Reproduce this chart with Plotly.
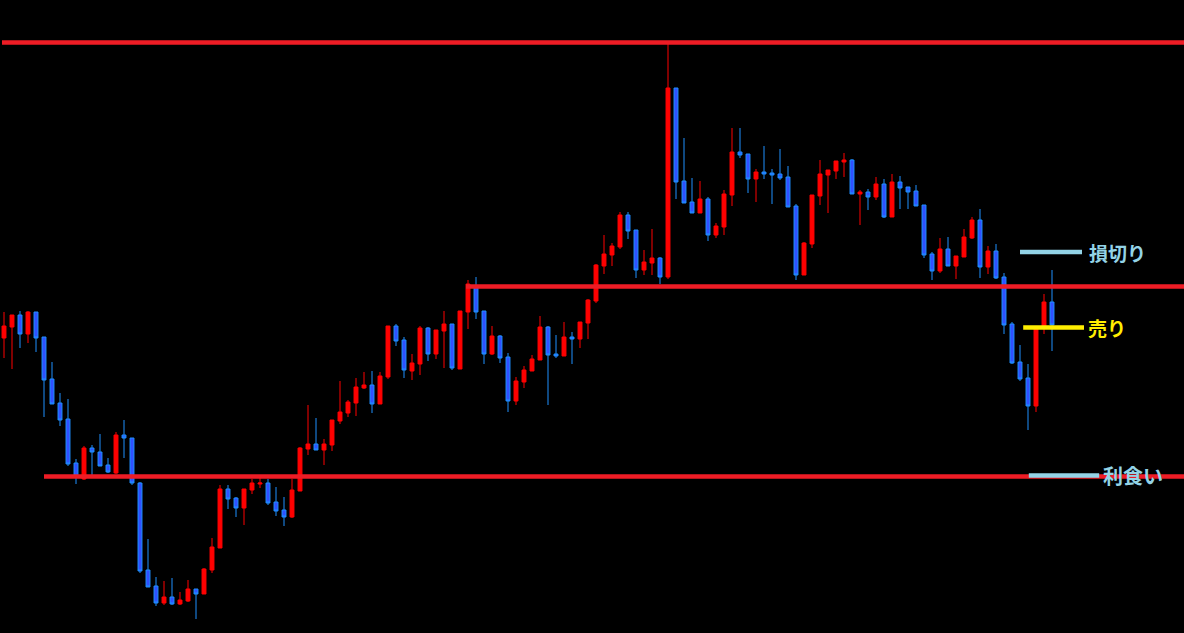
import plotly.graph_objects as go

# ---- data (price units) ----
idx = list(range(132))
open_ = [295,306,318,299,321,296,254,230,214,170,154,185,181,168,160,198,195,150,63,47,
         30,36,29,32,44,39,63,85,144,135,125,143,149,150,131,123,116,142,184,189,
         183,188,212,220,230,245,248,229,256,307,293,262,269,305,279,302,309,264,321,346,
         322,279,297,276,232,251,262,273,306,279,277,296,294,310,332,367,378,386,418,403,
         363,370,375,356,545,452,431,420,434,398,406,438,481,479,454,461,460,459,456,427,
         358,389,437,458,462,471,473,439,441,436,449,416,451,446,442,428,379,362,384,367,
         376,395,413,366,382,356,309,271,255,227,306,331]
high = [321,318,322,322,321,296,271,240,234,174,187,188,199,175,201,213,195,151,94,56,
        52,55,41,53,44,65,95,148,148,136,144,154,155,154,146,136,154,186,228,215,
        194,213,252,233,255,261,262,261,307,309,296,279,307,306,303,322,309,322,353,356,
        322,307,298,280,256,267,278,317,307,298,311,301,311,334,369,398,390,421,421,403,
        383,404,376,589,545,495,455,452,436,410,443,505,505,479,464,487,464,484,467,429,
        391,438,473,463,472,480,474,443,444,456,454,459,457,446,448,428,381,395,396,377,
        404,416,424,387,389,360,311,288,269,306,339,363]
low = [275,264,285,290,281,216,229,207,167,149,153,155,167,160,159,175,148,60,46,27,
       28,28,28,31,14,39,60,85,124,116,108,139,145,128,117,107,115,142,178,183,
       168,182,209,216,217,244,220,229,254,287,255,253,258,272,274,265,263,264,304,314,
       269,278,270,221,228,245,262,273,228,275,277,269,285,294,330,359,367,384,394,355,
       358,358,349,354,434,430,420,420,392,395,398,427,475,440,431,454,429,453,426,353,
       358,385,428,420,454,456,439,408,423,433,415,416,424,424,427,375,353,360,367,354,
       376,394,355,359,354,299,269,252,203,221,299,282]
close = [307,318,299,321,295,253,229,213,169,157,185,181,167,161,198,195,150,62,46,30,
         36,29,33,44,39,64,86,144,134,125,144,150,150,130,122,116,143,185,189,183,
         189,213,221,231,246,248,229,257,307,292,263,270,305,279,303,309,265,322,349,321,
         279,297,275,232,252,263,274,306,278,277,296,294,311,333,368,379,387,418,402,363,
         371,375,356,545,451,430,420,434,398,407,439,481,478,454,461,459,458,455,426,358,
         390,438,459,463,472,473,439,441,436,449,416,451,445,441,427,378,362,384,367,377,
         396,413,366,382,355,308,270,254,227,306,331,308]

# horizontal levels
resistance_top = 590.5
resistance_mid = 346.5
support_low = 156.5
stop_level = 381
sell_level = 305.5
take_level = 157.5
labels = ["損切り", "売り", "利食い"]

LINE_RED = "#ee1c25"
LBLUE = "#93d3e6"
YELLOW = "#ffee00"

fig = go.Figure()
fig.add_trace(go.Candlestick(
    x=idx, open=open_, high=high, low=low, close=close,
    increasing=dict(line=dict(color="#ff0000", width=1), fillcolor="#ff0000"),
    decreasing=dict(line=dict(color="#1e90ff", width=1), fillcolor="#3050ff"),
    whiskerwidth=0, showlegend=False, hoverinfo="skip",
))

shapes = [
    dict(type="line", xref="x", yref="y", x0=-0.25, x1=150, y0=resistance_top, y1=resistance_top,
         line=dict(color=LINE_RED, width=4.5)),
    dict(type="line", xref="x", yref="y", x0=57.75, x1=150, y0=resistance_mid, y1=resistance_mid,
         line=dict(color=LINE_RED, width=4.5)),
    dict(type="line", xref="x", yref="y", x0=5, x1=150, y0=support_low, y1=support_low,
         line=dict(color=LINE_RED, width=4.5)),
    dict(type="line", xref="x", yref="y", x0=127, x1=134.75, y0=stop_level, y1=stop_level,
         line=dict(color=LBLUE, width=4.5)),
    dict(type="line", xref="x", yref="y", x0=127.4, x1=135, y0=sell_level, y1=sell_level,
         line=dict(color=YELLOW, width=4.5)),
    dict(type="line", xref="x", yref="y", x0=128.1, x1=136.9, y0=take_level, y1=take_level,
         line=dict(color=LBLUE, width=4.5)),
]

font = "Noto Sans CJK JP"
annotations = [
    dict(x=135.4, y=stop_level, xref="x", yref="y", text="<b>%s</b>" % labels[0], showarrow=False,
         xanchor="left", yanchor="middle", font=dict(family=font, size=19, color=LBLUE)),
    dict(x=135.2, y=sell_level, xref="x", yref="y", text="<b>%s</b>" % labels[1], showarrow=False,
         xanchor="left", yanchor="middle", font=dict(family=font, size=19, color=YELLOW)),
    dict(x=137.1, y=take_level, xref="x", yref="y", text="<b>%s</b>" % labels[2], showarrow=False,
         xanchor="left", yanchor="middle", font=dict(family=font, size=20, color=LBLUE)),
]

fig.update_layout(
    width=1184, height=633,
    margin=dict(l=0, r=0, t=0, b=0),
    paper_bgcolor="#000000", plot_bgcolor="#000000",
    shapes=shapes, annotations=annotations,
    xaxis=dict(range=[-0.5, 147.5], visible=False, rangeslider=dict(visible=False), fixedrange=True),
    yaxis=dict(range=[0, 633], visible=False, fixedrange=True),
    showlegend=False,
)
fig.write_html(
    "out.html",
    config={"displayModeBar": False},
    post_script="document.body.style.margin='0';document.body.style.overflow='hidden';document.body.style.background='#000';",
)
